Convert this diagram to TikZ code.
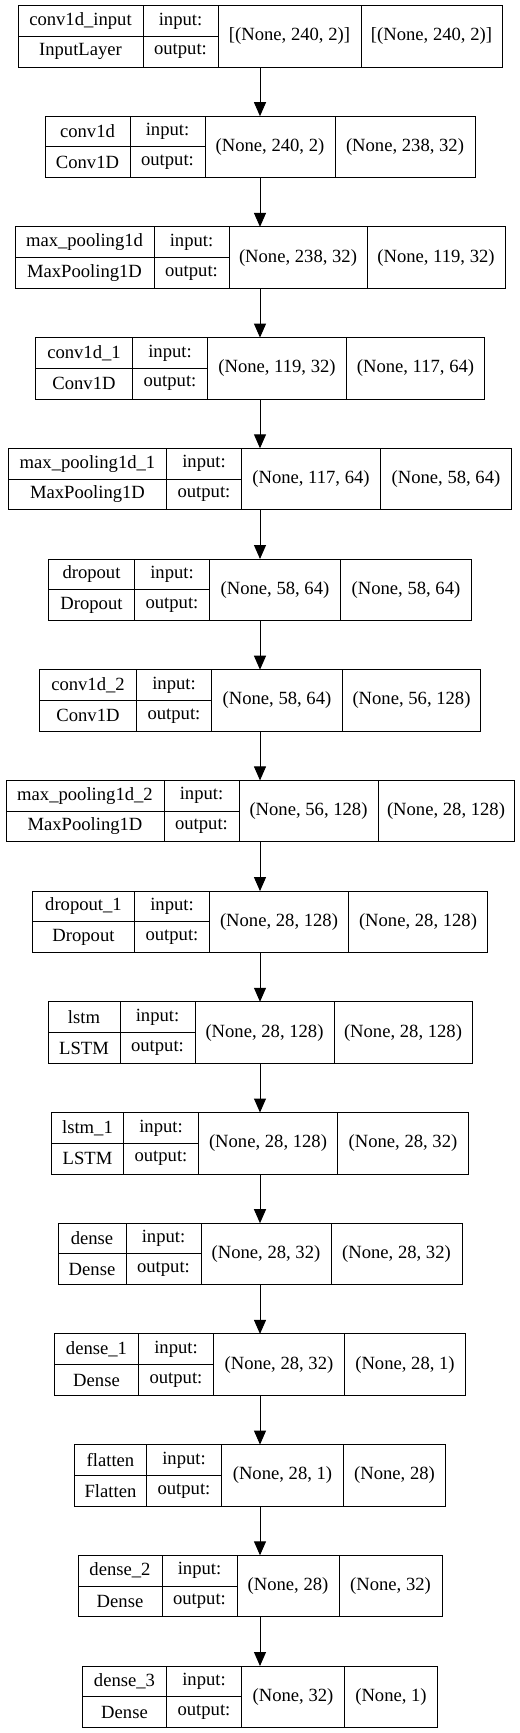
\documentclass[tikz,border=0pt]{standalone}
\usepackage{fontspec}
\setmainfont{Liberation Serif}
\usepackage{tikz}
\usetikzlibrary{arrows.meta,positioning}
\tikzset{
  cell/.style={draw, line width=1bp, inner sep=0, outer sep=0, minimum height=30.75bp,
    font=\fontsize{18.7pt}{22pt}\selectfont},
}
% #1 id, #2 y, #3 name, #4 class, #5 input shape, #6 output shape,
% #7 name width, #8 input width, #9 output width
\newcommand{\netlayer}[9]{%
  \pgfmathsetmacro{\wtot}{#7+75+#8+#9}
  \node (#1) at (260bp, #2bp) [inner sep=0, outer sep=0, minimum width=\wtot bp, minimum height=61.5bp] {};
  \node (#1-name) at (#1.north west) [cell, anchor=north west, minimum width=#7bp] {#3};
  \node (#1-class) at (#1-name.south west) [cell, anchor=north west, minimum width=#7bp] {#4};
  \node (#1-inl) at (#1-name.north east) [cell, anchor=north west, minimum width=75bp] {input:};
  \node (#1-outl) at (#1-inl.south west) [cell, anchor=north west, minimum width=75bp] {output:};
  \node (#1-in) at (#1-inl.north east) [cell, anchor=north west, minimum width=#8bp, minimum height=61.5bp] {#5};
  \node (#1-out) at (#1-in.north east) [cell, anchor=north west, minimum width=#9bp, minimum height=61.5bp] {#6};
}
\begin{document}
\begin{tikzpicture}[>={Triangle[length=14bp,width=12bp]}, line width=1bp]
  \useasboundingbox (0,0) rectangle (520bp,-1733bp);
  % Layers
  \netlayer{L1}{-36.25}{conv1d\_input}{InputLayer}{[(None, 240, 2)]}{[(None, 240, 2)]}{125}{143}{141}
  \netlayer{L2}{-146.95}{conv1d}{Conv1D}{(None, 240, 2)}{(None, 238, 32)}{85}{130}{140}
  \netlayer{L3}{-257.65}{max\_pooling1d}{MaxPooling1D}{(None, 238, 32)}{(None, 119, 32)}{139}{138}{138}
  \netlayer{L4}{-368.35}{conv1d\_1}{Conv1D}{(None, 119, 32)}{(None, 117, 64)}{97}{139}{138}
  \netlayer{L5}{-479.05}{max\_pooling1d\_1}{MaxPooling1D}{(None, 117, 64)}{(None, 58, 64)}{158}{139}{131}
  \netlayer{L6}{-589.75}{dropout}{Dropout}{(None, 58, 64)}{(None, 58, 64)}{86}{131}{131}
  \netlayer{L7}{-700.45}{conv1d\_2}{Conv1D}{(None, 58, 64)}{(None, 56, 128)}{97}{131}{138}
  \netlayer{L8}{-811.15}{max\_pooling1d\_2}{MaxPooling1D}{(None, 56, 128)}{(None, 28, 128)}{158}{139}{136}
  \netlayer{L9}{-921.85}{dropout\_1}{Dropout}{(None, 28, 128)}{(None, 28, 128)}{102}{139}{139}
  \netlayer{L10}{-1032.55}{lstm}{LSTM}{(None, 28, 128)}{(None, 28, 128)}{72}{139}{138}
  \netlayer{L11}{-1143.25}{lstm\_1}{LSTM}{(None, 28, 128)}{(None, 28, 32)}{72}{139}{131}
  \netlayer{L12}{-1253.95}{dense}{Dense}{(None, 28, 32)}{(None, 28, 32)}{68}{130}{131}
  \netlayer{L13}{-1364.65}{dense\_1}{Dense}{(None, 28, 32)}{(None, 28, 1)}{84}{131}{121}
  \netlayer{L14}{-1475.35}{flatten}{Flatten}{(None, 28, 1)}{(None, 28)}{72}{122}{102}
  \netlayer{L15}{-1586.05}{dense\_2}{Dense}{(None, 28)}{(None, 32)}{84}{102}{103}
  \netlayer{L16}{-1696.75}{dense\_3}{Dense}{(None, 32)}{(None, 1)}{84}{103}{93}

  % Edges
  \foreach \i [evaluate=\i as \j using int(\i+1)] in {1,...,15}
    \draw[->] (L\i.south) -- (L\j.north);
\end{tikzpicture}
\end{document}
